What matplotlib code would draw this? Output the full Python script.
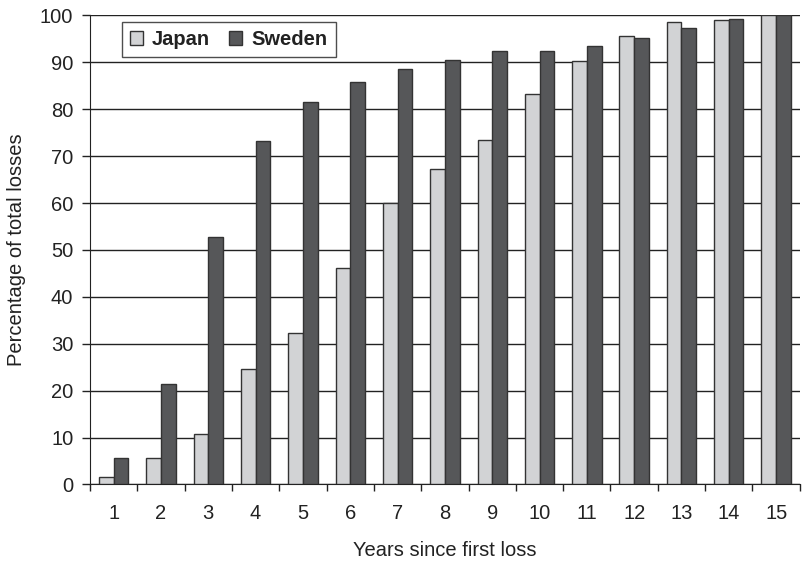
import numpy as np
import matplotlib
matplotlib.use("Agg")
from matplotlib import pyplot as plt

plt.rcParams['font.family'] = ['Liberation Sans', 'DejaVu Sans']

# Data
years = list(range(1, 16))
japan = [1.6, 5.6, 10.8, 24.6, 32.4, 46.2, 60.0, 67.2, 73.4, 83.2, 90.2, 95.7, 98.6, 99.0, 100.0]
sweden = [5.6, 21.4, 52.8, 73.2, 81.6, 85.9, 88.5, 90.5, 92.5, 92.5, 93.4, 95.3, 97.3, 99.3, 100.0]

fig = plt.figure(figsize=(8.03, 5.61), dpi=100)
ax = fig.add_axes([0.112, 0.1364, 0.884, 0.836])

x = np.array(years)
w = 0.31
ax.bar(x - w / 2, japan, w, color='#d2d3d5', edgecolor='#333333', linewidth=1, label='Japan', zorder=3)
ax.bar(x + w / 2, sweden, w, color='#565759', edgecolor='#333333', linewidth=1, label='Sweden', zorder=3)

ax.set_xlim(0.5, 15.5)
ax.set_ylim(0, 100)
ax.set_yticks(range(0, 101, 10))
ax.yaxis.grid(True, color='#222222', linewidth=1)
ax.set_axisbelow(True)

# ticks between categories, labels at centres
ax.set_xticks(x)
ax.set_xticklabels([str(v) for v in years])
ax.set_xticks(np.arange(0.5, 15.6, 1), minor=True)
ax.tick_params(axis='x', which='major', length=0, pad=14, labelsize=14.5, colors='#222222')
ax.tick_params(axis='x', which='minor', length=5, width=1, color='#222222')
ax.tick_params(axis='y', length=6, width=1, color='#222222', labelsize=14.5, labelcolor='#222222', pad=6)

for s in ['top', 'right']:
    ax.spines[s].set_visible(False)
ax.spines['left'].set_color('#222222')
ax.spines['bottom'].set_color('#222222')

ax.set_xlabel('Years since first loss', fontsize=14.5, labelpad=13, color='#222222')
ax.set_ylabel('Percentage of total losses', fontsize=14.5, labelpad=10, color='#222222')

leg = ax.legend(loc='upper left', bbox_to_anchor=(0.045, 0.986), borderaxespad=0,
                ncol=2, frameon=True, fancybox=False, edgecolor='#222222',
                prop={'weight': 'bold', 'size': 14.5}, labelcolor='#222222',
                handlelength=0.65, handleheight=0.65, columnspacing=0.95, handletextpad=0.45,
                borderpad=0.4)
leg.get_frame().set_linewidth(1)

plt.savefig('out.png', dpi=100)
